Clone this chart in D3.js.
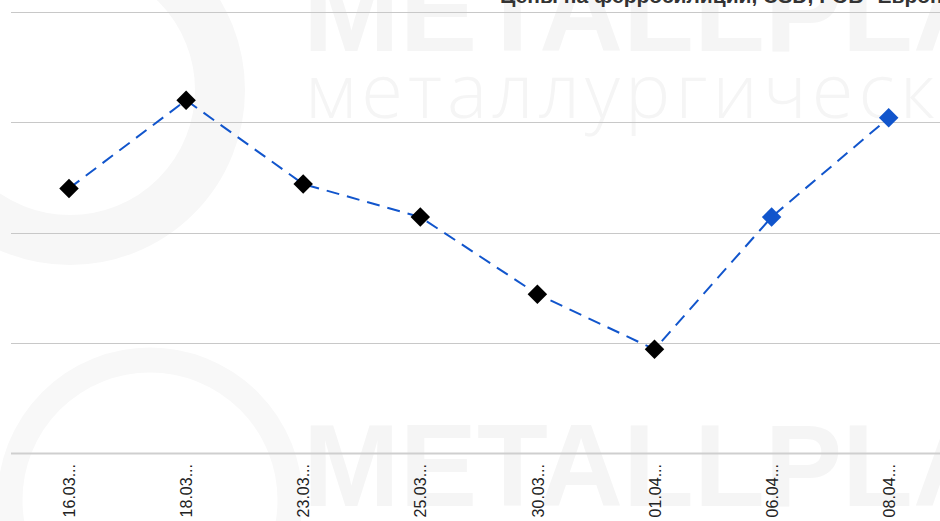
<!DOCTYPE html>
<html>
<head>
<meta charset="utf-8">
<script src="https://cdn.jsdelivr.net/npm/d3@7"></script>
<style>
  html, body { margin: 0; padding: 0; background: #fff; overflow: hidden; }
  svg { display: block; font-family: Arial, "Liberation Sans", sans-serif; }
</style>
</head>
<body>
<svg id="chart" width="940" height="521"></svg>
<script>
// values (y axis labels are cut off, scale estimated)
const dates = ['16.03...', '18.03...', '23.03...', '25.03...', '30.03...', '01.04...', '06.04...', '08.04...']
const prices = [1320, 1360, 1322, 1307, 1272, 1247, 1307, 1352]
const pointColors = ['#000', '#000', '#000', '#000', '#000', '#000', '#1155cc', '#1155cc']
const yTicks = [1200, 1250, 1300, 1350, 1400]
const title = 'Цены на ферросилиций, USD, FOB* Европа'

const svg = d3.select('#chart')

// faint watermark behind the chart
const wm = svg.append('g').attr('class', 'watermark').attr('fill', '#f5f5f5')
wm.append('circle').attr('cx', 70).attr('cy', 90).attr('r', 150)
  .attr('fill', 'none').attr('stroke', '#f7f7f7').attr('stroke-width', 50)
wm.append('circle').attr('cx', 150).attr('cy', 500).attr('r', 140)
  .attr('fill', 'none').attr('stroke', '#f8f8f8').attr('stroke-width', 25)
wm.append('text').attr('x', 303).attr('y', 51)
  .attr('font-size', 116).attr('font-weight', 'bold').text('METALLPLANT')
wm.append('text').attr('x', 305).attr('y', 118)
  .attr('font-family', '"Open Sans"').attr('font-weight', 300).attr('font-size', 76)
  .attr('letter-spacing', 5).text('металлургическая')
wm.append('text').attr('x', 303).attr('y', 506)
  .attr('font-size', 116).attr('font-weight', 'bold').text('METALLPLANT')

const x = d3.scalePoint()
  .domain(dates)
  .range([69, 69 + 117.1 * (dates.length - 1)])

const y = d3.scaleLinear()
  .domain([1200, 1400])
  .range([453, 12])

// gridlines
svg.append('g')
  .selectAll('line')
  .data(yTicks)
  .enter()
  .append('line')
  .attr('x1', 11)
  .attr('x2', 940)
  .attr('y1', d => Math.round(y(d)) + 0.5)
  .attr('y2', d => Math.round(y(d)) + 0.5)
  .attr('stroke', d => d === 1200 ? '#cfcfcf' : '#c8c8c8')
  .attr('stroke-width', d => d === 1200 ? 2 : 1)

// title, cut off by the top edge
svg.append('text')
  .attr('x', 500)
  .attr('y', 2.5)
  .attr('font-size', 21)
  .attr('font-weight', 'bold')
  .attr('fill', '#333')
  .text(title)

// x axis labels
const xAxis = d3.axisBottom(x).tickSize(0).tickPadding(0)
svg.append('g')
  .attr('transform', 'translate(0,464)')
  .call(xAxis)
  .call(g => g.select('.domain').remove())
  .selectAll('text')
  .attr('transform', 'rotate(-90)')
  .attr('text-anchor', 'end')
  .attr('dy', '0.35em')
  .attr('x', 0)
  .attr('y', 0)
  .attr('font-size', 16)
  .attr('font-family', 'Arial, "Liberation Sans", sans-serif')
  .attr('fill', '#222')

// dashed line
const line = d3.line()
  .x((d, i) => x(dates[i]))
  .y(d => y(d))

svg.append('path')
  .datum(prices)
  .attr('d', line)
  .attr('fill', 'none')
  .attr('stroke', '#1155cc')
  .attr('stroke-width', 2)
  .attr('stroke-dasharray', '13,8')

// diamond markers
const diamond = d3.symbol().type(d3.symbolSquare).size(190)
svg.append('g')
  .selectAll('path')
  .data(prices)
  .enter()
  .append('path')
  .attr('d', diamond)
  .attr('transform', (d, i) => `translate(${x(dates[i])},${y(d)}) rotate(45)`)
  .attr('fill', (d, i) => pointColors[i])
</script>
</body>
</html>
